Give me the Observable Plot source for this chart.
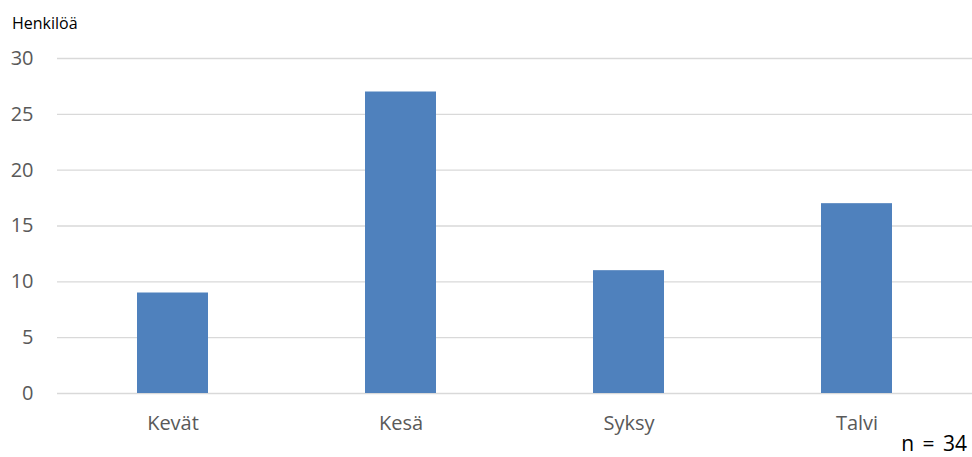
<!DOCTYPE html>
<html>
<head>
<meta charset="utf-8">
<script src="https://cdn.jsdelivr.net/npm/d3@7"></script>
<script src="https://cdn.jsdelivr.net/npm/@observablehq/plot@0.6"></script>
<style>
  html, body { margin: 0; padding: 0; background: #fff; }
  #chart { width: 972px; height: 457px; }
</style>
</head>
<body>
<div id="chart"></div>
<script>
const seasons = ["Kevät", "Kesä", "Syksy", "Talvi"];
const counts = [9, 27, 11, 17];
const yTicks = [0, 5, 10, 15, 20, 25, 30];
const yLabel = "Henkilöä";
const note = "n = 34";

const data = seasons.map((s, i) => ({season: s, count: counts[i]}));

const plot = Plot.plot({
  width: 972,
  height: 457,
  marginTop: 58,
  marginBottom: 64,
  marginLeft: 57,
  marginRight: 0,
  style: {fontFamily: "'Open Sans', sans-serif", background: "#fff"},
  x: {domain: seasons, paddingInner: 0.69, paddingOuter: 0.345, label: null},
  y: {domain: [0, 30], label: null},
  marks: [
    Plot.gridY(yTicks, {stroke: "#d9d9d9", strokeOpacity: 1, strokeWidth: 1.4}),
    Plot.barY(data, {x: "season", y: "count", fill: "#4f81bd"}),
    Plot.axisY({ticks: yTicks, tickSize: 0, tickPadding: 24, fontSize: 20, color: "#595959", label: null}),
    Plot.axisX({tickSize: 0, tickPadding: 22, fontSize: 20, color: "#595959", label: null})
  ]
});

document.getElementById("chart").appendChild(plot);

const svg = d3.select(plot);
svg.append("text")
  .attr("x", 12).attr("y", 29)
  .attr("text-anchor", "start")
  .attr("font-family", "'Open Sans', sans-serif")
  .attr("font-size", 16)
  .attr("fill", "#000")
  .text(yLabel);
svg.append("text")
  .attr("x", 967).attr("y", 451)
  .attr("text-anchor", "end")
  .attr("font-family", "'Open Sans', sans-serif")
  .attr("font-size", 21)
  .attr("word-spacing", 3)
  .attr("fill", "#000")
  .text(note);
</script>
</body>
</html>
